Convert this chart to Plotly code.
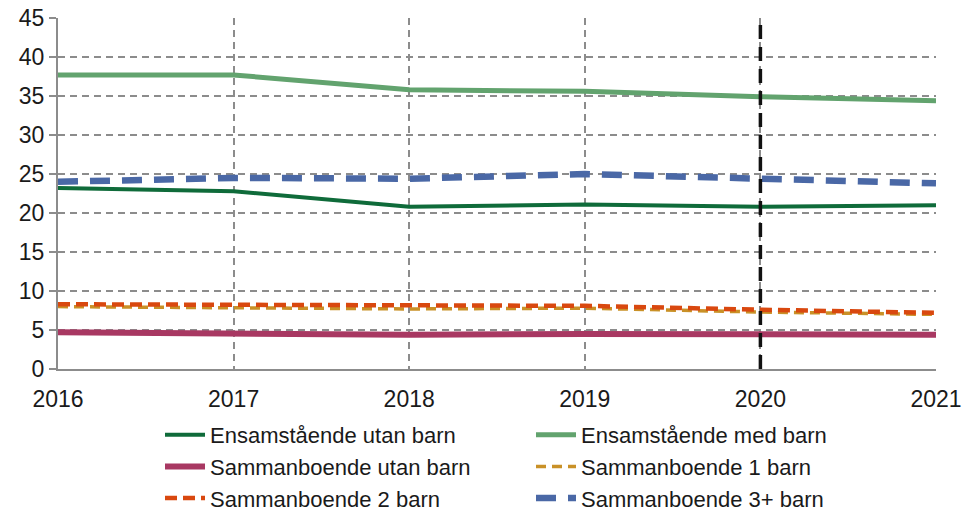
import plotly.graph_objects as go

years = [2016, 2017, 2018, 2019, 2020, 2021]
ensam_utan = [23.2, 22.8, 20.8, 21.1, 20.8, 21.0]
ensam_med = [37.7, 37.7, 35.8, 35.6, 34.9, 34.4]
samman_utan = [4.7, 4.6, 4.4, 4.5, 4.5, 4.4]
samman_1 = [8.0, 7.9, 7.7, 7.8, 7.3, 7.0]
samman_2 = [8.3, 8.2, 8.1, 8.1, 7.6, 7.2]
samman_3 = [24.0, 24.5, 24.4, 25.0, 24.4, 23.8]
y_ticks = [0, 5, 10, 15, 20, 25, 30, 35, 40, 45]
marker_year = 2020

fig = go.Figure()
series = [
    ("Ensamstående utan barn", ensam_utan, "#0f6b3a", 4, "solid"),
    ("Ensamstående med barn", ensam_med, "#62a36e", 5, "solid"),
    ("Sammanboende utan barn", samman_utan, "#a83862", 6, "solid"),
    ("Sammanboende 1 barn", samman_1, "#c99127", 3.5, "10px,6px"),
    ("Sammanboende 2 barn", samman_2, "#d9480f", 4.5, "12px,6px"),
    ("Sammanboende 3+ barn", samman_3, "#4a68a6", 6.5, "20px,12px"),
]
for name, vals, color, w, dash in series:
    fig.add_trace(go.Scatter(x=years, y=vals, name=name, mode="lines",
                             line=dict(color=color, width=w, dash=dash)))

fig.add_shape(type="line", x0=marker_year, x1=marker_year, y0=0, y1=45,
              xref="x", yref="y", line=dict(color="#111111", width=3.5, dash="14px,8px"),
              layer="above")

font = "Liberation Sans, Arial, sans-serif"
grid = dict(showgrid=True, gridcolor="#8c8c8c", griddash="7px,5px", gridwidth=1.5,
            showline=True, linecolor="#8c8c8c", linewidth=2, zeroline=False)
fig.update_layout(
    width=962, height=514,
    margin=dict(l=58, r=26, t=18, b=145, autoexpand=False),
    plot_bgcolor="white", paper_bgcolor="white",
    font=dict(family=font, size=23, color="#1a1a1a"),
    xaxis=dict(range=[2016, 2021], tickmode="array", tickvals=years,
               ticks="", ticklabelstandoff=8, **grid),
    yaxis=dict(range=[0, 45], tickmode="array", tickvals=y_ticks,
               ticks="outside", ticklen=7, tickcolor="#8c8c8c", tickwidth=2,
               **grid),
    legend=dict(orientation="h", xref="container", yref="container",
                x=160 / 962, xanchor="left", y=1 - 414 / 514, yanchor="top",
                entrywidth=316, entrywidthmode="pixels",
                font=dict(family=font, size=22, color="#1a1a1a"),
                tracegroupgap=0, itemwidth=40),
    showlegend=True,
)

fig.write_html("out.html", config={"displayModeBar": False},
               post_script="document.body.style.margin='0';document.body.style.padding='0';")
